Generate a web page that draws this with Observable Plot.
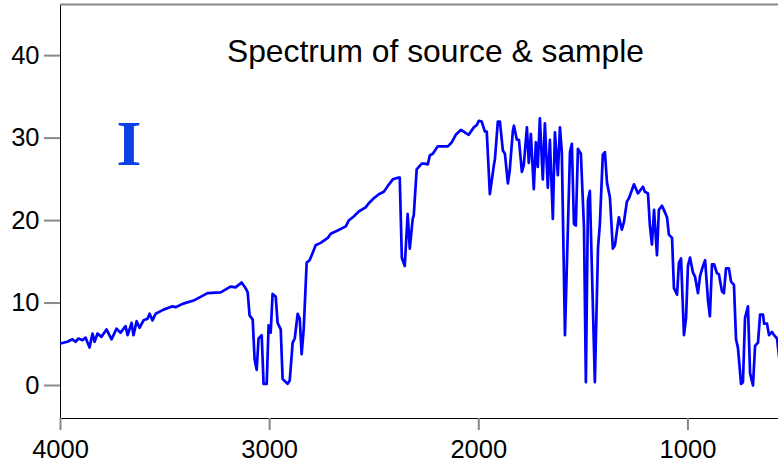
<!DOCTYPE html>
<html><head><meta charset="utf-8">
<script src="https://cdn.jsdelivr.net/npm/d3@7"></script>
<script src="https://cdn.jsdelivr.net/npm/@observablehq/plot@0.6"></script>
<style>body{margin:0;background:#fff;overflow:hidden;}</style>
</head><body><div id="chart"></div>
<script>
const wavenumber = [4000,3967,3943,3928,3914,3895,3880,3861,3847,3837,
3823,3804,3780,3756,3732,3713,3689,3679,3660,3651,
3636,3622,3603,3584,3574,3560,3545,3507,3464,3450,
3416,3364,3297,3234,3187,3163,3134,3115,3105,3096,
3081,3072,3062,3053,3038,3029,3014,3005,2995,2986,
2971,2962,2947,2938,2914,2904,2890,2880,2866,2856,
2847,2837,2823,2809,2794,2780,2756,2722,2708,2675,
2636,2622,2598,2574,2541,2526,2502,2478,2454,2435,
2411,2387,2378,2368,2354,2340,2330,2316,2311,2297,
2273,2258,2244,2234,2220,2196,2148,2129,2110,2086,
2072,2062,2048,2024,2009,2000,1986,1971,1962,1947,
1928,1923,1909,1899,1885,1875,1861,1852,1837,1832,
1818,1808,1794,1785,1770,1761,1751,1737,1727,1718,
1708,1694,1684,1670,1660,1646,1636,1622,1612,1603,
1588,1564,1555,1545,1536,1526,1512,1497,1488,1478,
1469,1445,1430,1421,1407,1397,1387,1373,1359,1349,
1335,1330,1316,1306,1292,1282,1258,1239,1215,1206,
1191,1182,1172,1162,1148,1139,1124,1115,1100,1091,
1076,1067,1052,1043,1033,1019,1009,1000,990,976,
966,952,942,928,918,904,895,885,875,861,
852,837,828,818,804,794,780,770,761,746,
737,727,713,703,689,679,665,655,641,636,
622,612,598,588,574,564];
const transmittance = [5.1,5.3,5.6,5.3,5.7,5.5,5.8,4.6,6.3,5.3,
6.3,5.9,6.8,5.6,6.9,6.4,7.2,6.1,7.6,6.1,
7.8,7.0,7.9,8.1,8.7,7.9,8.7,9.2,9.6,9.5,
9.9,10.3,11.2,11.3,12.0,11.9,12.5,11.8,11.3,8.5,
8.0,3.2,1.9,5.7,6.1,0.2,0.2,7.3,6.4,11.1,
10.8,7.6,6.8,0.8,0.2,0.6,5.2,5.7,8.7,8.1,
3.8,6.9,14.9,15.2,16.1,17.0,17.3,17.9,18.4,18.8,
19.3,20.0,20.5,21.1,21.6,22.1,22.7,23.2,23.5,24.2,
25.0,25.2,25.2,15.5,14.5,20.8,16.6,20.2,20.6,26.2,
26.9,26.9,26.8,27.9,28.1,29.0,29.0,29.5,30.4,31.0,
30.8,30.6,30.4,31.3,31.6,32.1,32.0,30.8,30.8,23.2,
26.7,27.4,32.0,32.0,28.5,28.1,24.5,26.1,30.9,31.5,
29.8,29.8,25.9,26.7,31.3,27.0,30.5,23.8,29.5,26.5,
32.4,25.0,31.8,24.0,29.8,20.2,30.7,25.5,31.3,28.3,
6.1,28.3,29.3,19.6,19.4,28.7,28.1,19.2,0.4,22.4,
23.6,0.4,16.7,19.6,28.0,28.3,24.6,22.8,16.6,17.0,
19.6,20.4,18.9,19.8,22.3,22.7,24.4,23.3,24.1,23.5,
23.3,19.4,17.1,21.3,15.8,21.3,21.8,21.3,20.4,18.3,
17.9,11.8,11.0,14.9,15.4,6.1,8.2,14.5,15.5,13.7,
13.2,11.2,13.3,14.5,15.2,10.3,8.4,14.7,14.7,13.6,
13.5,11.4,11.2,14.2,14.2,12.6,12.2,5.6,4.6,0.2,
0.4,8.2,9.6,1.5,0.0,4.8,5.2,8.6,8.6,7.5,
7.5,6.1,6.5,6.1,5.7,3.4];
const xTicks = [4000, 3000, 2000, 1000];
const yTicks = [0, 10, 20, 30, 40];
const xDomain = [4000, 567];
const yDomain = [-4, 46.2];
const title = "Spectrum of source & sample";
const panelLabel = "I";

const data = wavenumber.map((w, i) => ({w, t: transmittance[i]}));

const chart = Plot.plot({
  width: 778, height: 463,
  marginLeft: 60, marginRight: 0, marginTop: 4, marginBottom: 45,
  style: {fontFamily: "'Liberation Sans', Arial, sans-serif", fontSize: "25.5px", background: "white", color: "black"},
  x: {domain: xDomain, ticks: xTicks, tickFormat: d => String(d), tickSize: 12, tickPadding: 9, line: true, label: null},
  y: {domain: yDomain, ticks: yTicks, tickFormat: d => String(d), tickSize: 16, tickPadding: 5, line: true, label: null},
  marks: [
    Plot.ruleY([yDomain[1]], {stroke: "#888", strokeWidth: 2}),
    Plot.line(data, {x: "w", y: "t", stroke: "#0000ff", strokeWidth: 2.7, clip: true}),
    Plot.text([title], {text: d => d, frameAnchor: "top", dx: 16, dy: 57, lineAnchor: "bottom", fontSize: 31.8, fill: "black"}),
    Plot.text([panelLabel], {text: d => d, frameAnchor: "top-left", dx: 68.5, dy: 160, lineAnchor: "bottom", textAnchor: "middle", fontSize: 64, fontWeight: "bold", fontFamily: "'Liberation Serif', serif", fill: "#0a40e6"})
  ]
});
d3.select(chart).selectAll("g[aria-label*='axis'] line, g[aria-label*='axis'] path")
  .attr("stroke", "#888").attr("stroke-width", 2);
document.getElementById("chart").appendChild(chart);
</script>
</body></html>
